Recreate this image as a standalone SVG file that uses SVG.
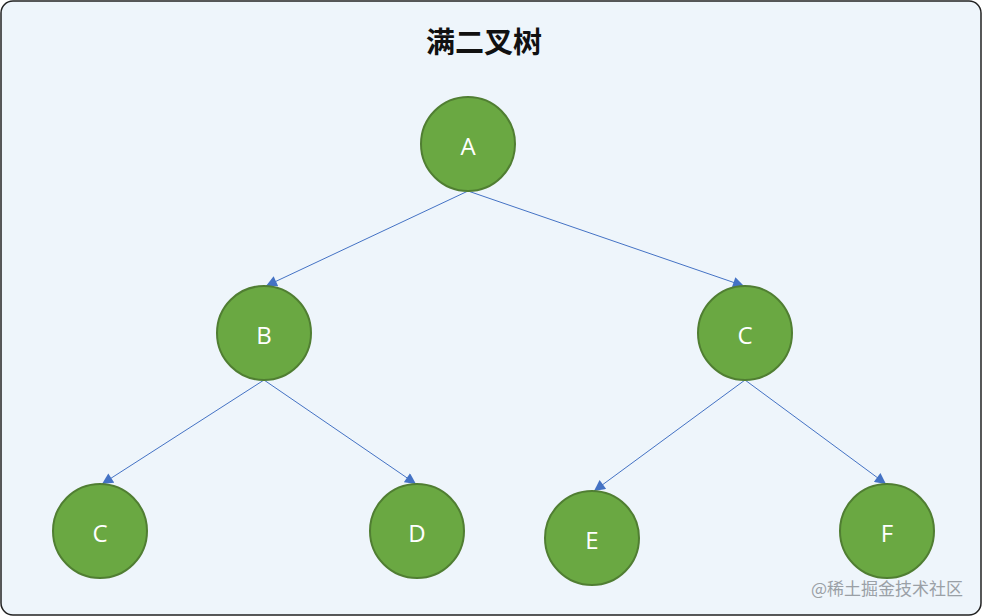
<svg xmlns="http://www.w3.org/2000/svg" width="982" height="616" viewBox="0 0 982 616">
<defs>
<marker id="arr" viewBox="0 0 10 10" refX="10" refY="5" markerWidth="12" markerHeight="11" markerUnits="userSpaceOnUse" orient="auto">
<path d="M0,0 L10,5 L0,10 z" fill="#4472C4"/>
</marker>
<style>
.node circle{fill:#6AA842;stroke:#507E32;stroke-width:2}
.node text{fill:#ffffff;font-family:"Open Sans","Noto Sans",sans-serif;font-size:24px;text-anchor:middle;dominant-baseline:central}
.edge{stroke:#4472C4;stroke-width:1;fill:none;marker-end:url(#arr)}
</style>
</defs>
<rect x="1" y="1" width="980" height="614" rx="12" fill="#EEF5FB" stroke="#222" stroke-width="1.5"/>
<text x="484" y="40" font-family="Noto Sans CJK SC,sans-serif" font-size="29" font-weight="bold" text-anchor="middle" dominant-baseline="central" fill="#111">满二叉树</text>
<g id="connectors">
<line class="edge" x1="468" y1="191" x2="266" y2="286"/>
<line class="edge" x1="468" y1="191" x2="744" y2="286"/>
<line class="edge" x1="264" y1="380" x2="102" y2="484"/>
<line class="edge" x1="264" y1="380" x2="416" y2="484"/>
<line class="edge" x1="745" y1="380" x2="594" y2="491"/>
<line class="edge" x1="745" y1="380" x2="886" y2="484"/>
</g>
<g id="nodeA" class="node"><circle cx="468" cy="144" r="47"/><text x="468" y="145">A</text></g>
<g id="nodeB" class="node"><circle cx="264" cy="333" r="47"/><text x="264" y="334">B</text></g>
<g id="nodeC1" class="node"><circle cx="745" cy="333" r="47"/><text x="745" y="334">C</text></g>
<g id="nodeC2" class="node"><circle cx="100" cy="531" r="47"/><text x="100" y="532">C</text></g>
<g id="nodeD" class="node"><circle cx="417" cy="531" r="47"/><text x="417" y="532">D</text></g>
<g id="nodeE" class="node"><circle cx="592" cy="538" r="47"/><text x="592" y="539">E</text></g>
<g id="nodeF" class="node"><circle cx="887" cy="531" r="47"/><text x="887" y="532">F</text></g>
<text x="963" y="587" font-family="Noto Sans CJK SC,sans-serif" font-size="17" text-anchor="end" dominant-baseline="central" fill="#9aa0a6">@稀土掘金技术社区</text>
</svg>
